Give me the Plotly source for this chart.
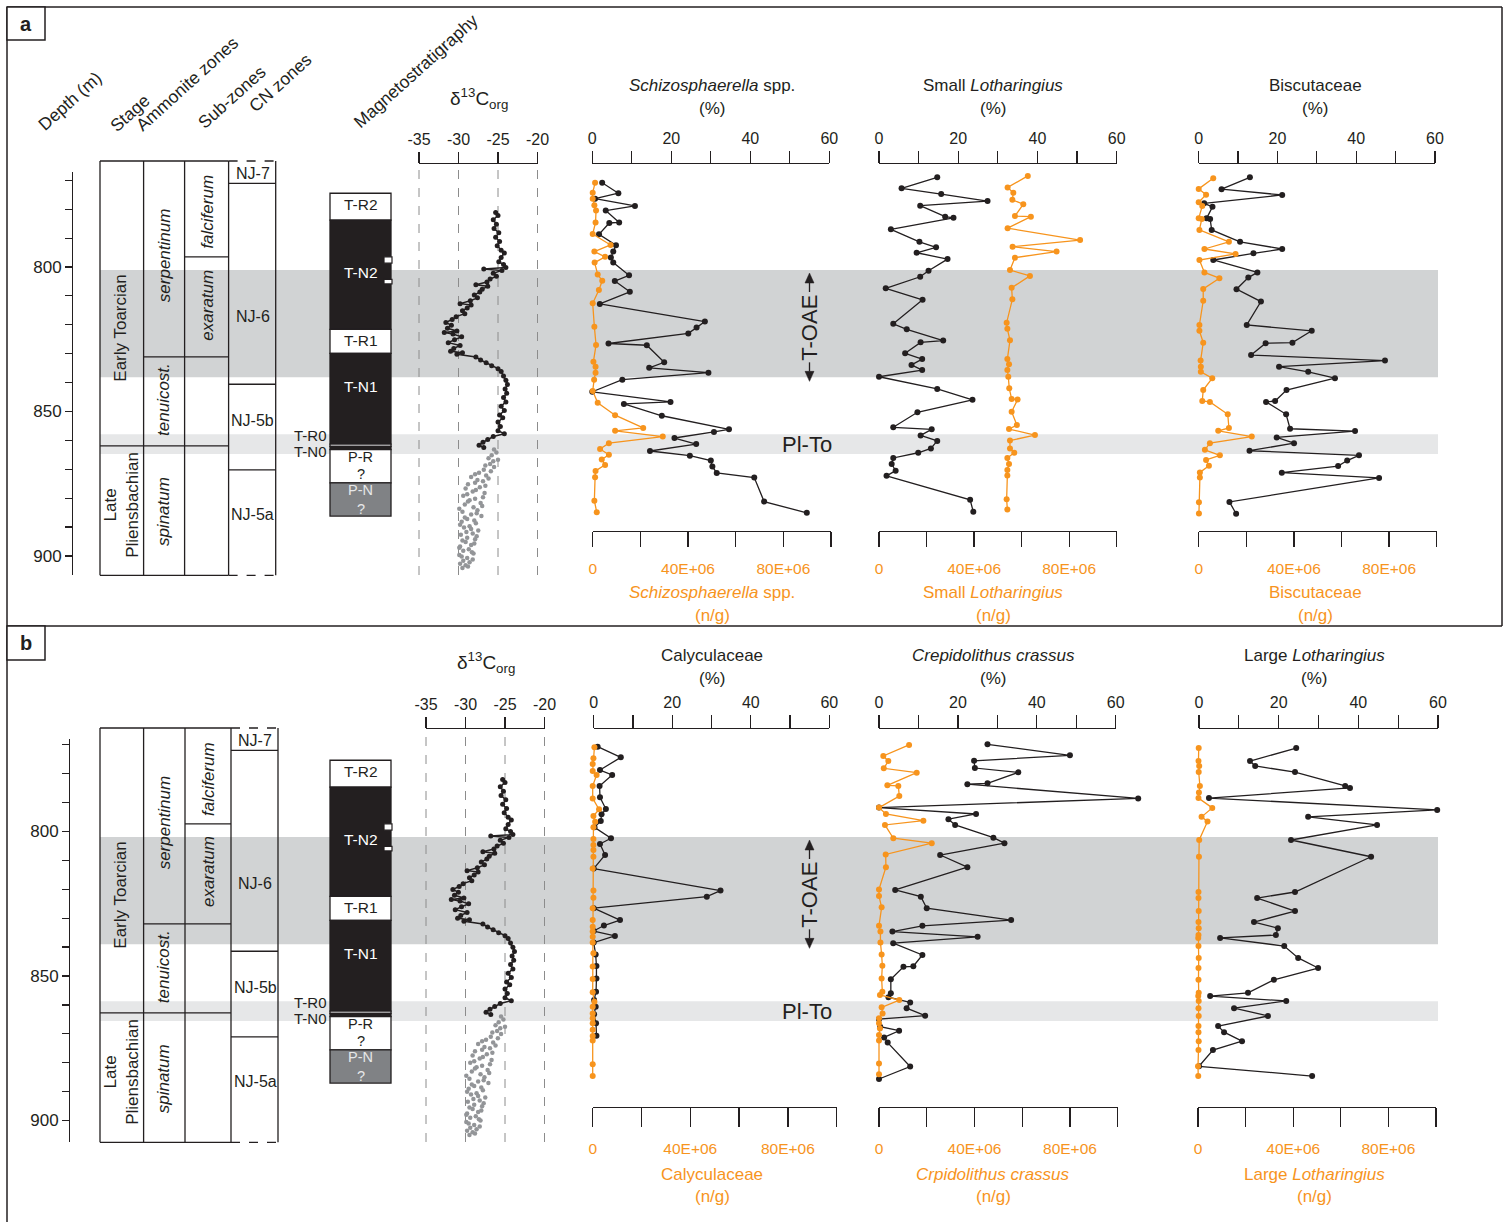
import plotly.graph_objects as go

W, H = 1510, 1222
INK = "#231F20"
ORANGE = "#F7941D"
GREY_DOT = "#939598"
BAND_OAE = "#D1D3D4"
BAND_PLTO = "#E6E7E8"
MAG_GREY = "#808285"
FONT = "Liberation Sans, Arial, sans-serif"

# ---------------------------------------------------------------- data
# d13C org (permil) vs depth (m)
d13c_depth = [781, 782, 783.5, 785, 786.5, 788, 789.5, 791, 792.5, 794, 795, 796.5, 798, 799, 800,
              800.5, 801, 802, 803, 804, 805, 806, 806.5, 807.5, 808.5, 809.5, 810.5, 811.5, 812.5,
              813, 814, 815, 816, 817, 818, 819, 820, 821, 822, 822.5, 823, 824, 825, 826, 827, 828,
              829, 829.5, 830, 831, 832, 833, 834, 835, 836, 837.5, 839, 840.5, 842, 843.5, 845,
              846.5, 848, 849.5, 851, 852, 853.5, 855, 856.5, 857.5, 858.5, 859.5, 860.5, 861.5, 862.3]
d13c_value = [-25.3, -25.0, -25.6, -25.2, -25.5, -24.9, -25.3, -24.8, -25.1, -24.6, -24.2, -24.6, -24.9,
              -24.3, -24.0, -26.8, -24.5, -25.6, -25.2, -26.0, -26.4, -27.8, -26.3, -27.0, -27.3, -28.0,
              -27.6, -28.5, -29.8, -28.4, -28.9, -29.5, -29.2, -30.3, -30.8, -31.6, -30.9, -31.4, -30.2,
              -31.8, -30.7, -29.6, -30.5, -31.3, -29.8, -30.6, -31.0, -29.5, -30.2, -27.8, -27.2, -26.5,
              -25.8, -25.0, -24.6, -24.3, -24.0, -23.8, -24.1, -23.9, -24.3, -24.0, -24.6, -24.2, -24.8,
              -24.4, -25.0, -24.7, -25.0, -24.2, -25.6, -26.3, -26.9, -27.4, -26.8]
d13c_grey_depth = [863, 864, 865, 866, 866.5, 867, 868, 868.5, 869, 870, 870.5, 871, 871.5, 872, 872.5,
                   873, 873.5, 874, 874.5, 875, 875.5, 876, 876.5, 877, 877.5, 878, 878.5, 879, 879.5,
                   880, 880.5, 881, 881.5, 882, 882.5, 883, 883.5, 884, 884.5, 885, 885.5, 886, 886.5,
                   887, 887.5, 888, 888.5, 889, 889.5, 890, 890.5, 891, 891.5, 892, 892.5, 893, 893.5,
                   894, 894.5, 895, 895.5, 896, 896.5, 897, 897.5, 898, 898.5, 899, 899.5, 900, 900.5,
                   901, 901.5, 902, 902.5, 903, 903.5, 904]
d13c_grey_value = [-25.5, -25.2, -25.8, -26.2, -25.0, -25.6, -26.0, -26.6, -25.5, -26.8, -25.9, -27.4,
                   -27.9, -26.5, -28.4, -26.2, -27.6, -26.9, -27.9, -28.8, -26.6, -27.3, -29.1, -27.8,
                   -28.2, -26.7, -28.9, -29.4, -26.9, -27.9, -28.6, -28.8, -27.2, -29.2, -27.0, -28.1,
                   -29.9, -27.6, -29.5, -27.7, -28.4, -27.1, -29.2, -28.9, -28.0, -29.6, -27.8, -29.8,
                   -28.6, -29.3, -28.4, -27.5, -29.0, -28.2, -29.7, -27.7, -28.9, -27.9, -29.5, -29.1,
                   -28.0, -28.4, -29.8, -29.9, -28.7, -29.4, -28.3, -28.1, -29.9, -29.6, -28.9, -28.2,
                   -29.4, -28.6, -29.8, -29.1, -28.8, -29.5]
d13c_tick_values = [-35, -30, -25, -20]
d13c_tick_text = ["-35", "-30", "-25", "-20"]

# panel a nannofossils: percentages and absolute abundances (x 1E+06 n/g)
schizo_pct_depth = [770.7, 774.3, 776.2, 778.7, 780.3, 784.4, 784.6, 788.5, 792.3, 794.5, 796.5, 798.3,
                    802.7, 804.7, 808.4, 812.6, 818.7, 820.8, 822.8, 826.3, 826.9, 832.8, 834.7, 836.4,
                    838.8, 843.0, 846.5, 847.2, 851.3, 856.0, 856.9, 859.0, 861.1, 863.5, 865.1, 866.8,
                    868.9, 871.1, 872.7, 881.0, 884.9]
schizo_pct = [2.5, 6.6, 0.7, 10.8, 3.4, 6.8, 4.3, 1.7, 6.0, 5.3, 4.7, 5.3, 9.3, 5.7, 9.5, 1.9, 28.5, 26.4,
              24.3, 4.1, 13.8, 18.2, 14.4, 29.4, 7.6, 0.0, 19.8, 8.0, 17.6, 34.6, 30.8, 20.8, 26.3, 14.6,
              24.7, 30.0, 30.4, 31.5, 41.0, 43.5, 54.3]
schizo_ng_depth = [770.7, 774.1, 776.2, 778.5, 780.3, 784.4, 788.4, 792.2, 794.5, 796.3, 798.3, 802.4,
                   804.6, 807.8, 812.4, 820.5, 826.8, 832.6, 834.3, 836.4, 838.8, 842.7, 846.8, 851.1,
                   855.5, 856.5, 858.5, 860.8, 862.8, 864.8, 866.4, 868.3, 870.4, 872.6, 880.7, 884.7]
schizo_ng = [1.0, 0.0, 0.0, 0.7, 1.4, 1.2, 0.0, 7.5, 0.7, 5.2, 0.8, 2.1, 4.0, 2.6, 0.0, 0.7, 1.4, 0.3,
             1.2, 1.2, 0.6, 0.0, 2.1, 9.4, 21.2, 9.4, 29.4, 6.8, 3.1, 6.8, 3.8, 5.2, 1.2, 1.0, 0.7, 1.7]

smallloth_pct_depth = [768.8, 772.6, 774.6, 777.0, 778.6, 782.4, 782.8, 786.8, 791.1, 793.0, 794.9, 797.1,
                       801.1, 803.2, 807.2, 811.2, 819.5, 821.4, 825.3, 825.9, 829.7, 831.7, 833.7, 835.5,
                       837.8, 842.0, 845.8, 850.1, 855.3, 856.0, 858.1, 860.0, 862.6, 864.1, 865.9, 868.0,
                       870.3, 872.1, 880.4, 884.5]
smallloth_pct = [14.7, 5.7, 15.7, 27.4, 10.4, 16.7, 18.8, 3.0, 10.2, 14.4, 9.5, 17.3, 12.5, 10.4, 1.7,
                 11.0, 3.6, 7.0, 16.2, 10.5, 6.6, 10.9, 8.2, 10.9, 0.0, 14.7, 23.6, 9.7, 3.6, 13.3, 10.5,
                 14.7, 13.1, 9.9, 3.6, 3.2, 4.2, 1.9, 23.0, 23.8]
smallloth_ng_depth = [768.3, 772.3, 774.1, 776.6, 778.1, 782.2, 782.4, 786.4, 790.5, 792.8, 794.5, 796.6,
                      800.9, 802.9, 807.0, 811.0, 819.1, 821.2, 825.2, 831.7, 833.5, 835.5, 837.8, 841.8,
                      845.5, 845.7, 849.9, 854.5, 855.9, 858.0, 859.9, 862.6, 864.1, 865.9, 868.0, 870.1,
                      872.0, 880.2, 883.7]
smallloth_ng = [62.6, 54.1, 56.5, 56.1, 60.7, 57.2, 63.9, 54.1, 84.6, 56.2, 74.7, 57.2, 55.1, 63.5, 55.8,
                56.1, 53.7, 54.0, 55.1, 54.0, 54.7, 54.0, 54.4, 54.8, 55.8, 58.3, 55.8, 58.0, 54.7, 65.6,
                55.1, 55.1, 56.9, 54.0, 54.7, 54.0, 54.0, 53.7, 54.0]

biscut_pct_depth = [768.8, 772.9, 774.9, 777.8, 779.0, 783.0, 783.2, 787.0, 791.1, 793.6, 795.1, 797.4,
                    801.7, 803.5, 807.5, 811.8, 819.9, 821.9, 826.0, 826.2, 830.3, 832.2, 834.3, 836.1,
                    838.3, 842.4, 846.2, 846.5, 850.8, 855.8, 856.6, 858.8, 860.8, 863.4, 865.0, 866.8,
                    868.7, 871.0, 872.8, 881.1, 885.2]
biscut_pct = [13.0, 5.8, 21.2, 1.4, 3.5, 2.0, 2.9, 3.3, 10.5, 21.2, 13.9, 3.7, 14.9, 12.6, 9.6, 15.8,
              12.2, 28.7, 23.8, 17.0, 13.3, 47.3, 20.4, 27.8, 34.6, 22.3, 19.4, 17.1, 22.2, 23.2, 39.7,
              19.8, 24.2, 12.9, 40.7, 37.7, 35.4, 21.1, 45.8, 7.8, 9.5]
biscut_ng_depth = [769.1, 772.8, 774.8, 777.4, 778.7, 783.0, 783.2, 787.0, 791.1, 793.6, 795.3, 797.4,
                   801.7, 803.7, 807.4, 811.5, 819.9, 821.9, 826.0, 832.2, 834.3, 836.1, 838.3, 842.4,
                   846.2, 846.5, 850.8, 855.5, 856.5, 858.5, 860.8, 863.1, 865.0, 866.6, 868.6, 870.9,
                   872.7, 881.2, 885.1]
biscut_ng = [6.1, 0.0, 3.1, 0.0, 1.5, 0.0, 1.3, 0.3, 12.7, 2.4, 15.5, 0.3, 2.4, 8.7, 1.9, 1.9, 0.3, 0.3,
             1.9, 0.8, 0.9, 0.9, 5.7, 1.9, 1.5, 4.7, 12.2, 12.7, 8.2, 22.3, 4.7, 2.6, 8.9, 3.1, 4.3, 0.5,
             0.5, 0.1, 0.1]

# panel b nannofossils
calyc_pct_depth = [769.6, 773.3, 777.7, 779.4, 783.2, 787.1, 791.2, 793.0, 795.3, 797.5, 801.3, 803.3,
                   807.1, 811.8, 819.4, 821.5, 825.5, 829.6, 831.5, 833.4, 835.1, 837.4, 841.5, 845.5,
                   849.8, 854.4, 857.3, 859.6, 862.2, 865.3, 869.6]
calyc_pct = [1.0, 6.9, 1.6, 4.7, 1.5, 1.6, 3.1, 2.0, 1.8, 0.2, 4.4, 1.6, 2.9, 0.0, 32.3, 28.8, 0.0, 6.7,
             2.6, 0.0, 5.4, 0.0, 0.5, 0.7, 0.7, 0.6, 0.1, 0.5, 0.1, 0.6, 0.7]
calyc_ng_depth = [769.8, 773.6, 775.6, 778.0, 779.4, 783.2, 787.5, 791.3, 793.6, 795.6, 797.5, 801.6,
                  803.6, 805.4, 807.7, 811.8, 819.4, 821.9, 825.5, 829.6, 831.9, 833.6, 835.4, 837.4,
                  841.1, 845.7, 850.0, 854.6, 857.9, 859.6, 861.9, 863.6, 865.3, 867.6, 869.7, 871.3,
                  879.5, 883.6]
calyc_ng = [0.7, 0.3, 0.0, 0.0, 1.6, 0.0, 0.0, 2.6, 0.3, 1.0, 0.3, 0.3, 0.3, 0.3, 0.3, 0.0, 0.3, 0.3, 0.0,
            0.0, 0.0, 0.0, 0.0, 0.0, 0.3, 0.0, 0.0, 0.0, 0.7, 0.0, 0.0, 0.0, 0.0, 0.0, 0.0, 0.0, 0.0, 0.0]

crepid_pct_depth = [768.8, 772.6, 774.5, 777.0, 778.5, 782.3, 782.6, 787.5, 790.7, 792.9, 794.7, 796.7,
                    801.1, 803.0, 807.1, 811.3, 819.2, 821.5, 825.5, 829.6, 831.6, 833.6, 835.4, 837.6,
                    841.7, 845.6, 845.8, 850.1, 854.9, 856.3, 858.1, 860.1, 862.7, 863.9, 866.5, 867.9,
                    870.2, 872.0, 880.3, 884.6]
crepid_pct = [27.5, 48.4, 24.1, 24.3, 35.3, 27.5, 22.4, 65.7, 0.0, 24.6, 17.6, 19.3, 29.0, 31.8, 15.5,
              22.4, 4.1, 10.6, 12.1, 33.5, 11.0, 3.4, 25.0, 3.6, 11.0, 8.7, 6.2, 3.0, 3.0, 2.4, 7.9, 7.0,
              11.7, 0.0, 0.3, 5.1, 1.3, 2.2, 7.9, 0.0]
crepid_ng_depth = [769.0, 772.8, 774.6, 777.1, 778.6, 783.0, 783.2, 786.7, 790.7, 792.9, 795.2, 796.7,
                   801.3, 803.0, 806.9, 811.3, 819.0, 821.3, 825.2, 831.6, 833.6, 837.4, 841.5, 845.4,
                   849.8, 854.4, 855.5, 857.3, 859.8, 861.9, 863.6, 865.3, 867.1, 869.4, 871.3, 879.2,
                   883.0]
crepid_ng = [12.6, 1.8, 3.9, 2.0, 15.8, 3.5, 8.1, 8.5, 0.0, 2.9, 18.6, 2.5, 6.0, 22.1, 2.8, 2.9, 0.0, 0.0,
             1.1, 0.0, 0.6, 0.6, 1.1, 1.4, 1.1, 1.4, 0.4, 8.5, 1.1, 1.5, 0.0, 0.0, 0.4, 0.0, 0.0, 0.0, 0.0]

largeloth_pct_depth = [770.1, 774.6, 776.3, 778.4, 783.2, 783.9, 787.4, 791.5, 793.9, 796.7, 801.9, 807.7,
                       819.9, 822.0, 826.5, 830.3, 832.4, 834.8, 835.8, 838.6, 842.7, 846.2, 850.3, 854.8,
                       855.9, 857.6, 860.1, 862.8, 866.3, 868.4, 871.5, 874.6, 880.2, 883.6]
largeloth_pct = [24.4, 12.8, 14.1, 24.1, 36.7, 37.9, 2.5, 59.8, 27.4, 44.7, 23.1, 43.2, 24.1, 14.6, 24.1,
                 13.8, 19.8, 19.3, 5.3, 21.4, 24.9, 29.9, 18.8, 12.3, 2.8, 21.9, 8.8, 17.3, 4.8, 6.3, 10.8,
                 3.5, 0.0, 28.4]
largeloth_ng_depth = [770.1, 774.6, 776.3, 778.4, 783.2, 785.5, 787.4, 790.8, 793.9, 795.5, 801.9, 807.7,
                      819.9, 822.0, 826.5, 830.3, 832.4, 834.8, 835.8, 838.6, 842.7, 846.2, 850.3, 854.8,
                      855.9, 857.6, 860.1, 862.8, 866.3, 868.4, 871.5, 874.6, 880.2, 883.6]
largeloth_ng = [0.3, 0.2, 0.5, 0.3, 0.8, 0.4, 0.2, 6.0, 1.5, 4.0, 0.5, 0.4, 0.2, 0.2, 0.3, 0.2, 0.3, 0.2,
                0.1, 0.2, 0.3, 0.2, 0.2, 0.3, 0.1, 0.3, 0.2, 0.3, 0.2, 0.2, 0.3, 0.2, 0.0, 0.1]

pct_tick_values = [0, 20, 40, 60]
pct_tick_text = ["0", "20", "40", "60"]
pct_minor_ticks = [10, 30, 50]
ng_tick_values = [0, 40e6, 80e6]
ng_tick_text = ["0", "40E+06", "80E+06"]
ng_minor_ticks = [20e6, 60e6, 100e6]
depth_tick_values = [800, 850, 900]
depth_tick_text = ["800", "850", "900"]
depth_minor_ticks = [770, 780, 790, 810, 820, 830, 840, 860, 870, 880, 890]

# stratigraphy (depth, m)
column_top, column_base = 763.15, 906.5
stage_boundaries = [861.7]
ammonite_boundaries = [830.9]
subzone_boundaries = [796.3]
cn_boundaries = [770.9, 840.4, 870.0]
stage_labels = ["Early Toarcian", "Late<br>Pliensbachian"]
stage_label_depths = [820.9, 882.2]
ammonite_labels = ["serpentinum", "tenuicost.", "spinatum"]
ammonite_label_depths = [795.7, 845.8, 884.6]
subzone_labels = ["falciferum", "exaratum"]
subzone_label_depths = [780.8, 813.0]
cn_labels = ["NJ-7", "NJ-6", "NJ-5b", "NJ-5a"]
cn_label_depths = [767.3, 817.1, 853.1, 885.3]

mag_names = ["T-R2", "T-N2", "T-R1", "T-N1", "T-R0", "T-N0", "P-R", "P-N"]
mag_tops = [774.3, 783.6, 821.4, 829.7, 861.1, 861.9, 863.0, 874.5]
mag_bases = [783.6, 821.4, 829.7, 861.1, 861.9, 863.0, 874.5, 886.0]
mag_polarity = ["R", "N", "R", "N", "R", "N", "R?", "N?"]
mag_label_depths = [778.2, 801.6, 825.4, 841.3, 858.3, 863.5, 865.4, 877.0]
mag_query_depths = [871.6, 883.6]
mag_notch_tops = [796.3, 804.1]
mag_notch_bases = [798.5, 805.7]
oae_band = [800.9, 838.0]
oae_arrow_tips = [801.9, 839.4]
plto_band = [857.7, 864.5]

# ---------------------------------------------------------------- geometry helpers
K = 2.89  # px per metre


def fx(px):
    return px / W


def fy(py):
    return 1 - py / H


def depth_at(py, ref):
    return 800.0 + (py - ref) / K


def ydom(top, bot):
    return [1 - bot / H, 1 - top / H]


def xdom(l, r):
    return [l / W, r / W]


def tfont(size, color=INK):
    return dict(family=FONT, size=size, color=color)


panels = {
    "a": dict(ref=267.5, axis_ref=267.0, top=0, bot=626, depth_x=72, depth_top=172, depth_bot=575,
              d13l=419, d13r=537.5, ax_top=164, d13_bot=575, ng_line=531, top_ticklen=12,
              bot_ticklen=15, cols=dict(stage=100, amm=143.6, sub=184.6, cnl=228.6, cnr=275.7),
              title_rows=(86, 108, 593, 615)),
    "b": dict(ref=834.5, axis_ref=831.5, top=626, bot=1222, depth_x=69, depth_top=739, depth_bot=1142,
              d13l=426, d13r=544.5, ax_top=729, d13_bot=1142, ng_line=1107, top_ticklen=13,
              bot_ticklen=19, cols=dict(stage=100, amm=143.6, sub=185.0, cnl=231.0, cnr=278.0),
              title_rows=(655, 678, 1174, 1196)),
}

nanno_plots = [
    ("a", (592.3, 829.3), (592.7, 831.0), "<i>Schizosphaerella</i> spp.", "<i>Schizosphaerella</i> spp.",
     712, schizo_pct_depth, schizo_pct, schizo_ng_depth, schizo_ng),
    ("a", (879.0, 1116.7), (879.0, 1116.7), "Small <i>Lotharingius</i>", "Small <i>Lotharingius</i>",
     993, smallloth_pct_depth, smallloth_pct, smallloth_ng_depth, smallloth_ng),
    ("a", (1198.7, 1435.0), (1198.7, 1436.7), "Biscutaceae", "Biscutaceae",
     1315, biscut_pct_depth, biscut_pct, biscut_ng_depth, biscut_ng),
    ("b", (593.7, 829.3), (592.7, 836.7), "Calyculaceae", "Calyculaceae",
     712, calyc_pct_depth, calyc_pct, calyc_ng_depth, calyc_ng),
    ("b", (879.0, 1115.7), (879.0, 1117.7), "<i>Crepidolithus crassus</i>", "<i>Crpidolithus crassus</i>",
     993, crepid_pct_depth, crepid_pct, crepid_ng_depth, crepid_ng),
    ("b", (1199.0, 1438.0), (1198.0, 1436.0), "Large <i>Lotharingius</i>", "Large <i>Lotharingius</i>",
     1314, largeloth_pct_depth, largeloth_pct, largeloth_ng_depth, largeloth_ng),
]

# ---------------------------------------------------------------- build
layout = dict(width=W, height=H, margin=dict(l=0, r=0, t=0, b=0, pad=0, autoexpand=False), autosize=False,
              paper_bgcolor="white", plot_bgcolor="rgba(0,0,0,0)", showlegend=False,
              font=tfont(16))
traces, shapes, annotations = [], [], []
counter = {"x": 0, "y": 0}


def new_axis(kind, spec):
    counter[kind] += 1
    n = counter[kind]
    spec.setdefault("automargin", False)
    layout["%saxis%s" % (kind, "" if n == 1 else n)] = spec
    return "%s%s" % (kind, "" if n == 1 else n)


def dummy(xa, ya):
    traces.append(go.Scatter(x=[], y=[], xaxis=xa, yaxis=ya, hoverinfo="skip"))


def extended(l, r, lo, hi, pad_lo, pad_hi):
    """hidden data axis sharing the scale of a visible axis (l..r px <-> lo..hi)"""
    s = (r - l) / (hi - lo)
    return dict(domain=xdom(l - pad_lo * s, r + pad_hi * s), range=[lo - pad_lo, hi + pad_hi],
                visible=False, fixedrange=True)


def minor_spec(vals, ticklen):
    return dict(tickmode="array", tickvals=vals, ticks="outside", ticklen=ticklen, tickwidth=1.2,
                tickcolor=INK, showgrid=False)


def text(t, x, y, size=16, color=INK, angle=0, xanchor="center", yanchor="middle", yref="paper"):
    annotations.append(dict(text=t, x=fx(x), y=(fy(y) if yref == "paper" else y), xref="paper",
                            yref=yref, showarrow=False, font=tfont(size, color), textangle=angle,
                            xanchor=xanchor, yanchor=yanchor, align="center", borderpad=0))


def line_shape(x0, x1, y0, y1, yref, dash="solid", width=1.3, color=INK):
    shapes.append(dict(type="line", xref="paper", yref=yref, x0=fx(x0), x1=fx(x1), y0=y0, y1=y1,
                       line=dict(color=color, width=width, dash=dash), layer="above"))


def rect_shape(x0, x1, y0, y1, yref, fill, layer="above", lw=1.3, lc=INK):
    shapes.append(dict(type="rect", xref="paper", yref=yref, x0=fx(x0), x1=fx(x1), y0=y0, y1=y1,
                       fillcolor=fill, line=dict(color=lc, width=lw), layer=layer))


master_x = new_axis("x", dict(domain=[0, 1], range=[0, W], visible=False, fixedrange=True))

for key, p in panels.items():
    m = new_axis("y", dict(domain=ydom(p["top"], p["bot"]),
                           range=[depth_at(p["bot"], p["ref"]), depth_at(p["top"], p["ref"])],
                           visible=False, fixedrange=True, anchor=master_x))
    dummy(master_x, m)
    p["master"] = m
    # visible depth axis
    dy = new_axis("y", dict(
        domain=ydom(p["depth_top"], p["depth_bot"]),
        range=[depth_at(p["depth_bot"], p["axis_ref"]), depth_at(p["depth_top"], p["axis_ref"])],
        anchor="free", position=fx(p["depth_x"]), side="left", showline=True, linecolor=INK,
        linewidth=1.3, ticks="outside", ticklen=7, tickwidth=1.2, tickcolor=INK,
        tickmode="array", tickvals=depth_tick_values, ticktext=depth_tick_text, tickfont=tfont(17),
        minor=minor_spec(depth_minor_ticks, 7), showgrid=False, zeroline=False, fixedrange=True))
    dummy(master_x, dy)

    # bands (below everything)
    for band, col in ((oae_band, BAND_OAE), (plto_band, BAND_PLTO)):
        shapes.append(dict(type="rect", xref="paper", yref=m, x0=fx(100), x1=fx(1438), y0=band[0],
                           y1=band[1], fillcolor=col, line=dict(width=0), layer="below"))

    # d13C: depth axis, visible scale axis, wider hidden data axis
    d13y = new_axis("y", dict(domain=ydom(p["ax_top"], p["d13_bot"]),
                              range=[depth_at(p["d13_bot"], p["ref"]), depth_at(p["ax_top"], p["ref"])],
                              visible=False, fixedrange=True))
    d13vis = new_axis("x", dict(
        domain=xdom(p["d13l"], p["d13r"]), range=[-35, -20], anchor=d13y, side="top",
        showline=True, linecolor=INK, linewidth=1.3, ticks="outside", ticklen=11, tickwidth=1.2,
        tickcolor=INK, tickmode="array", tickvals=d13c_tick_values, ticktext=d13c_tick_text,
        tickfont=tfont(16), showgrid=False, zeroline=False, fixedrange=True, ticklabelstandoff=0))
    dummy(d13vis, d13y)
    ext = extended(p["d13l"], p["d13r"], -35, -20, 5, 5)
    ext["anchor"] = d13y
    d13data = new_axis("x", ext)
    layout["yaxis" + d13y[1:]]["anchor"] = d13vis
    for v in d13c_tick_values:  # dashed guide lines at each tick
        shapes.append(dict(type="line", xref=d13data, yref=d13y + " domain", x0=v, x1=v, y0=0, y1=1,
                           line=dict(color="#8C8C8C", width=1, dash="dash"), layer="below"))
    traces.append(go.Scatter(x=d13c_grey_value, y=d13c_grey_depth, xaxis=d13data, yaxis=d13y,
                             mode="markers", marker=dict(color=GREY_DOT, size=4.5), cliponaxis=False,
                             hoverinfo="skip"))
    traces.append(go.Scatter(x=d13c_value, y=d13c_depth, xaxis=d13data, yaxis=d13y,
                             mode="lines+markers", line=dict(color=INK, width=1.5),
                             marker=dict(color=INK, size=5), cliponaxis=False, hoverinfo="skip"))
    text("δ<sup>13</sup>C<sub>org</sub>", (p["d13l"] + p["d13r"]) / 2 + 0.5, p["ax_top"] - 66, size=19)

    # nanno depth axis
    p["nany"] = new_axis("y", dict(domain=ydom(p["ax_top"], p["ng_line"]),
                                   range=[depth_at(p["ng_line"], p["ref"]), depth_at(p["ax_top"], p["ref"])],
                                   visible=False, fixedrange=True, anchor=master_x))

    # stratigraphic columns
    c = p["cols"]
    for xv in (c["stage"], c["amm"], c["sub"], c["cnl"], c["cnr"]):
        line_shape(xv, xv, column_top, column_base, m)
    for yv in (column_top, column_base):
        line_shape(c["stage"], c["cnl"], yv, yv, m)
        line_shape(c["cnl"], c["cnr"], yv, yv, m, dash="dash")
    for yv in stage_boundaries:
        line_shape(c["stage"], c["cnl"], yv, yv, m)
    for yv in ammonite_boundaries:
        line_shape(c["amm"], c["cnl"], yv, yv, m)
    for yv in subzone_boundaries:
        line_shape(c["sub"], c["cnl"], yv, yv, m)
    for yv in cn_boundaries:
        line_shape(c["cnl"], c["cnr"], yv, yv, m)
    for t, d in zip(stage_labels, stage_label_depths):
        text(t, (c["stage"] + c["amm"]) / 2 - 1, d, size=17, angle=-90, yref=m)
    for t, d in zip(ammonite_labels, ammonite_label_depths):
        text("<i>" + t + "</i>", (c["amm"] + c["sub"]) / 2, d, size=17, angle=-90, yref=m)
    for t, d in zip(subzone_labels, subzone_label_depths):
        text("<i>" + t + "</i>", (c["sub"] + c["cnl"]) / 2, d, size=17, angle=-90, yref=m)
    for t, d in zip(cn_labels, cn_label_depths):
        text(t, (c["cnl"] + c["cnr"]) / 2 + 0.5, d, size=16, yref=m)

    # magnetostratigraphy
    for name, t0, t1, pol in zip(mag_names, mag_tops, mag_bases, mag_polarity):
        fill = {"R": "white", "N": INK, "R?": "white", "N?": MAG_GREY}[pol]
        rect_shape(330, 391, t0, t1, m, fill)
    for t0, t1 in zip(mag_notch_tops, mag_notch_bases):
        rect_shape(384, 392, t0, t1, m, "white", lw=1.2)
    for name, d, pol in zip(mag_names, mag_label_depths, mag_polarity):
        if name in ("T-R0", "T-N0"):
            text(name, 328, d, size=15, xanchor="right", yref=m)
        elif pol in ("R?", "N?"):
            text(name, 360.5, d, size=14.5, color=INK if pol == "R?" else "#E6E7E8", yref=m)
        else:
            text(name, 360.5, d, size=15.5, color=INK if pol == "R" else "white", yref=m)
    for d, col in zip(mag_query_depths, (INK, "#E6E7E8")):
        text("?", 360.5, d, size=14.5, color=col, yref=m)

    # T-OAE label with arrows, Pl-To label
    tip_up, tip_dn = oae_arrow_tips
    mid = (tip_up + tip_dn) / 2
    text("T-OAE", 809.5, mid, size=22, angle=-90, yref=m)
    head = 10 / K
    half_text = 34 / K
    ax_c = 809.5
    line_shape(ax_c, ax_c, tip_up + head, mid - half_text - 0.4, m, width=1.3)
    line_shape(ax_c, ax_c, tip_dn - head, mid + half_text + 0.4, m, width=1.3)
    for tip, base in ((tip_up, tip_up + head), (tip_dn, tip_dn - head)):
        shapes.append(dict(type="path", xref="paper", yref=m,
                           path="M %f,%f L %f,%f L %f,%f Z" % (fx(ax_c), tip, fx(ax_c - 4.5), base,
                                                               fx(ax_c + 4.5), base),
                           fillcolor=INK, line=dict(color=INK, width=0.5), layer="above"))
    text("Pl-To", 807, (plto_band[0] + plto_band[1]) / 2, size=22, yref=m)

# nannofossil plots
for (pk, pdom, ndom, ttl, ttl_ng, tx, pdep, pval, ndep, nval) in nanno_plots:
    p = panels[pk]
    ny = p["nany"]
    pvis = new_axis("x", dict(
        domain=xdom(*pdom), range=[0, 60], anchor=ny, side="top", showline=True, linecolor=INK,
        linewidth=1.3, ticks="outside", ticklen=p["top_ticklen"], tickwidth=1.2, tickcolor=INK,
        tickmode="array", tickvals=pct_tick_values, ticktext=pct_tick_text, tickfont=tfont(16),
        minor=minor_spec(pct_minor_ticks, p["top_ticklen"]), showgrid=False,
        zeroline=False, fixedrange=True, ticklabelstandoff=0))
    dummy(pvis, ny)
    nvis = new_axis("x", dict(
        domain=xdom(*ndom), range=[0, 100e6], anchor=ny, side="bottom", showline=True,
        linecolor=INK, linewidth=1.3, ticks="outside", ticklen=p["bot_ticklen"], tickwidth=1.2,
        tickcolor=INK, tickmode="array", tickvals=ng_tick_values, ticktext=ng_tick_text,
        tickfont=tfont(15.5, ORANGE), minor=minor_spec(ng_minor_ticks, p["bot_ticklen"]),
        showgrid=False, zeroline=False, fixedrange=True, ticklabelstandoff=8))
    dummy(nvis, ny)
    pdata = new_axis("x", dict(extended(pdom[0], pdom[1], 0, 60, 5, 15), anchor=ny))
    ndata = new_axis("x", dict(extended(ndom[0], ndom[1], 0, 100e6, 8e6, 25e6), anchor=ny))
    traces.append(go.Scatter(x=pval, y=pdep, xaxis=pdata, yaxis=ny, mode="lines+markers",
                             line=dict(color=INK, width=1.3), marker=dict(color=INK, size=6),
                             cliponaxis=False, hoverinfo="skip"))
    traces.append(go.Scatter(x=[v * 1e6 for v in nval], y=ndep, xaxis=ndata, yaxis=ny,
                             mode="lines+markers", line=dict(color=ORANGE, width=1.3),
                             marker=dict(color=ORANGE, size=6), cliponaxis=False, hoverinfo="skip"))
    r = p["title_rows"]
    text(ttl, tx, r[0], size=17)
    text("(%)", tx, r[1], size=17)
    text(ttl_ng, tx, r[2], size=17, color=ORANGE)
    text("(n/g)", tx, r[3], size=17, color=ORANGE)

# column headings (panel a)
head_text = ["Depth (m)", "Stage", "Ammonite zones", "Sub-zones", "CN zones", "Magnetostratigraphy"]
head_x = [70, 130, 187, 232, 280, 416]
head_y = [101, 113, 84, 97, 83, 71]
for t, hx, hy in zip(head_text, head_x, head_y):
    text(t, hx, hy, size=17.5, angle=-42)

# frames and panel letters
for (x0, y0, x1, y1) in [(7, 7, 1502, 7), (1502, 7, 1502, 626), (7, 626, 1502, 626), (7, 7, 7, 1222)]:
    shapes.append(dict(type="line", xref="paper", yref="paper", x0=fx(x0), x1=fx(x1), y0=fy(y0), y1=fy(y1),
                       line=dict(color=INK, width=1.5), layer="above"))
for (y0, y1, letter) in [(7, 40, "a"), (626, 660, "b")]:
    shapes.append(dict(type="rect", xref="paper", yref="paper", x0=fx(7), x1=fx(45), y0=fy(y1), y1=fy(y0),
                       line=dict(color=INK, width=1.5), fillcolor="white", layer="above"))
    text("<b>%s</b>" % letter, 26, (y0 + y1) / 2, size=20)

layout["shapes"] = shapes
layout["annotations"] = annotations
fig = go.Figure(data=traces, layout=layout)
fig.update_traces(showlegend=False)
fig.write_html("out.html", config={"staticPlot": True, "displayModeBar": False, "responsive": False},
               post_script="document.body.style.margin='0';document.body.style.padding='0';")
